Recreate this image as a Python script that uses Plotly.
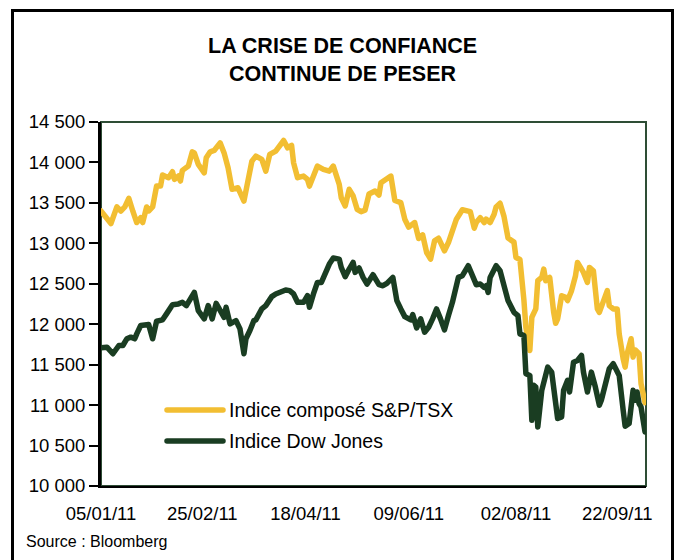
import plotly.graph_objects as go

# ---------------- data ----------------
tsx_dates = [
    "2011-01-05", "2011-01-08", "2011-01-10", "2011-01-13", "2011-01-15", "2011-01-17", "2011-01-19",
    "2011-01-21", "2011-01-23", "2011-01-25", "2011-01-26", "2011-01-28", "2011-01-29", "2011-01-31",
    "2011-02-02", "2011-02-04", "2011-02-05", "2011-02-08", "2011-02-10", "2011-02-11", "2011-02-13",
    "2011-02-14", "2011-02-15", "2011-02-18", "2011-02-20", "2011-02-21", "2011-02-23", "2011-02-26",
    "2011-02-27", "2011-03-01", "2011-03-03", "2011-03-06", "2011-03-08", "2011-03-10", "2011-03-12",
    "2011-03-15", "2011-03-18", "2011-03-20", "2011-03-22", "2011-03-24", "2011-03-27", "2011-03-29",
    "2011-03-31", "2011-04-03", "2011-04-05", "2011-04-07", "2011-04-09", "2011-04-11", "2011-04-12",
    "2011-04-14", "2011-04-17", "2011-04-19", "2011-04-20", "2011-04-23", "2011-04-24", "2011-04-27",
    "2011-04-30", "2011-05-02", "2011-05-05", "2011-05-06", "2011-05-08", "2011-05-10", "2011-05-12",
    "2011-05-14", "2011-05-16", "2011-05-18", "2011-05-20", "2011-05-23", "2011-05-25", "2011-05-26",
    "2011-05-29", "2011-05-31", "2011-06-02", "2011-06-05", "2011-06-07", "2011-06-09", "2011-06-12",
    "2011-06-14", "2011-06-16", "2011-06-18", "2011-06-20", "2011-06-22", "2011-06-24", "2011-06-26",
    "2011-06-27", "2011-06-29", "2011-07-01", "2011-07-03", "2011-07-06", "2011-07-08", "2011-07-10",
    "2011-07-12", "2011-07-13", "2011-07-15", "2011-07-17", "2011-07-18", "2011-07-20", "2011-07-22",
    "2011-07-23", "2011-07-25", "2011-07-27", "2011-07-29", "2011-08-01", "2011-08-02", "2011-08-04",
    "2011-08-06", "2011-08-07", "2011-08-09", "2011-08-10", "2011-08-12", "2011-08-13", "2011-08-15",
    "2011-08-16", "2011-08-17", "2011-08-19", "2011-08-21", "2011-08-22", "2011-08-23", "2011-08-25",
    "2011-08-27", "2011-08-28", "2011-08-30", "2011-09-01", "2011-09-02", "2011-09-05", "2011-09-07",
    "2011-09-08", "2011-09-10", "2011-09-12", "2011-09-13", "2011-09-15", "2011-09-17", "2011-09-18",
    "2011-09-20", "2011-09-22", "2011-09-23", "2011-09-25", "2011-09-26", "2011-09-27", "2011-09-29",
    "2011-09-30", "2011-10-01", "2011-10-03", "2011-10-04", "2011-10-06",
]
tsx_values = [
    13400, 13298, 13245, 13450, 13400, 13450, 13557,
    13400, 13257, 13318, 13257, 13450, 13400, 13450,
    13708, 13708, 13844, 13811, 13885, 13791, 13832,
    13770, 13902, 13955, 14131, 14118, 13975, 13872,
    14057, 14131, 14148, 14242, 14118, 13934, 13668,
    13687, 13523, 13770, 14016, 14078, 14037, 13893,
    14099, 14140, 14201, 14271, 14180, 14210, 13995,
    13811, 13832, 13791, 13708, 13872, 13955, 13914,
    13893, 13955, 13729, 13564, 13462, 13668, 13585,
    13421, 13392, 13410, 13610, 13647, 13597, 13749,
    13803, 13832, 13530, 13503, 13298, 13200, 13257,
    13060, 13105, 12887, 12805, 13031, 13064, 12948,
    12908, 13010, 13154, 13298, 13415, 13408, 13392,
    13187, 13257, 13318, 13257, 13298, 13257, 13360,
    13450, 13495, 13330, 13065, 13015, 12825, 12800,
    12300, 11963, 11676, 12086, 12189, 12538, 12579,
    12682, 12538, 12579, 12147, 12012, 12066, 12353,
    12332, 12292, 12415, 12600, 12764, 12641, 12517,
    12702, 12661, 12189, 12147, 12271, 12415, 12230,
    12189, 12189, 11881, 11573, 11470, 11635, 11820,
    11593, 11684, 11635, 11265, 11030,
]

dow_dates = [
    "2011-01-05", "2011-01-08", "2011-01-11", "2011-01-14", "2011-01-16", "2011-01-18", "2011-01-20",
    "2011-01-22", "2011-01-23", "2011-01-25", "2011-01-29", "2011-01-31", "2011-02-02", "2011-02-05",
    "2011-02-07", "2011-02-10", "2011-02-13", "2011-02-15", "2011-02-17", "2011-02-19", "2011-02-21",
    "2011-02-23", "2011-02-26", "2011-02-28", "2011-03-02", "2011-03-04", "2011-03-06", "2011-03-08",
    "2011-03-09", "2011-03-11", "2011-03-14", "2011-03-16", "2011-03-18", "2011-03-19", "2011-03-21",
    "2011-03-23", "2011-03-24", "2011-03-27", "2011-03-29", "2011-04-01", "2011-04-03", "2011-04-05",
    "2011-04-08", "2011-04-10", "2011-04-12", "2011-04-14", "2011-04-17", "2011-04-19", "2011-04-20",
    "2011-04-22", "2011-04-24", "2011-04-26", "2011-04-28", "2011-04-30", "2011-05-02", "2011-05-05",
    "2011-05-06", "2011-05-08", "2011-05-10", "2011-05-12", "2011-05-13", "2011-05-15", "2011-05-17",
    "2011-05-19", "2011-05-22", "2011-05-23", "2011-05-25", "2011-05-27", "2011-05-29", "2011-06-01",
    "2011-06-03", "2011-06-05", "2011-06-07", "2011-06-10", "2011-06-11", "2011-06-13", "2011-06-15",
    "2011-06-17", "2011-06-19", "2011-06-21", "2011-06-23", "2011-06-25", "2011-06-27", "2011-06-29",
    "2011-07-01", "2011-07-04", "2011-07-06", "2011-07-09", "2011-07-11", "2011-07-13", "2011-07-15",
    "2011-07-17", "2011-07-18", "2011-07-19", "2011-07-20", "2011-07-23", "2011-07-25", "2011-07-27",
    "2011-07-29", "2011-08-01", "2011-08-03", "2011-08-04", "2011-08-06", "2011-08-07", "2011-08-09",
    "2011-08-10", "2011-08-11", "2011-08-12", "2011-08-13", "2011-08-15", "2011-08-16", "2011-08-18",
    "2011-08-20", "2011-08-21", "2011-08-23", "2011-08-25", "2011-08-26", "2011-08-28", "2011-08-29",
    "2011-08-31", "2011-09-02", "2011-09-04", "2011-09-05", "2011-09-07", "2011-09-09", "2011-09-11",
    "2011-09-13", "2011-09-14", "2011-09-16", "2011-09-18", "2011-09-20", "2011-09-22", "2011-09-23",
    "2011-09-25", "2011-09-26", "2011-09-28", "2011-09-30", "2011-10-01", "2011-10-02", "2011-10-03",
    "2011-10-04", "2011-10-06",
]
dow_values = [
    11709, 11716, 11635, 11737, 11737, 11820, 11840,
    11820, 11881, 11984, 11996, 11820, 12037, 12054,
    12128, 12242, 12251, 12271, 12230, 12312, 12394,
    12168, 12066, 12230, 12066, 12258, 12168, 12086,
    12209, 12004, 12045, 11943, 11635, 11820, 11922,
    12045, 12054, 12189, 12230, 12341, 12374, 12394,
    12423, 12415, 12374, 12271, 12271, 12353, 12209,
    12374, 12517, 12517, 12641, 12744, 12818, 12805,
    12702, 12587, 12682, 12764, 12641, 12695, 12579,
    12497, 12612, 12579, 12489, 12476, 12505, 12579,
    12292, 12189, 12094, 12054, 12119, 11955, 12066,
    11901, 11963, 12066, 12189, 12066, 11930, 12107,
    12271, 12579, 12600, 12723, 12620, 12489, 12497,
    12455, 12476, 12394, 12579, 12723, 12661, 12497,
    12292, 12147, 12107, 11881, 11860, 11388, 11367,
    10813, 11244, 11223, 10730, 11183, 11285, 11470,
    11408, 11223, 10834, 10854, 11183, 11306, 11162,
    11531, 11552, 11614, 11408, 11162, 11408, 11223,
    10998, 11060, 11265, 11450, 11512, 11408, 11367,
    10936, 10739, 10772, 11183, 11060, 11162, 11019,
    10977, 10669,
]

series_names = ["Indice composé S&P/TSX", "Indice Dow Jones"]
x_tick_dates = ["2011-01-05", "2011-02-25", "2011-04-18", "2011-06-09", "2011-08-02", "2011-09-22"]
x_tick_labels = ["05/01/11", "25/02/11", "18/04/11", "09/06/11", "02/08/11", "22/09/11"]
y_tick_values = [10000, 10500, 11000, 11500, 12000, 12500, 13000, 13500, 14000, 14500]
y_tick_labels = ["10 000", "10 500", "11 000", "11 500", "12 000", "12 500", "13 000", "13 500", "14 000", "14 500"]

title_text = "<b>LA CRISE DE CONFIANCE<br>CONTINUE DE PESER</b>"
source_text = "Source : Bloomberg"

# ---------------- style ----------------
YELLOW = "#F2BE32"
GREEN = "#1A3D22"
FONT = "Arial, 'Liberation Sans', sans-serif"

W, H = 674, 560
L, R, T, B = 101, 28, 122, 74
pw, ph = W - L - R, H - T - B


def px_x(p):
    return (p - L) / pw


def px_y(p):
    return (H - B - p) / ph


fig = go.Figure()
fig.add_trace(go.Scatter(x=tsx_dates, y=tsx_values, mode="lines", name=series_names[0],
                         line=dict(color=YELLOW, width=5.5), showlegend=False))
fig.add_trace(go.Scatter(x=dow_dates, y=dow_values, mode="lines", name=series_names[1],
                         line=dict(color=GREEN, width=5.5), showlegend=False))

shapes = [
    # plot frame (top/right dark green)
    dict(type="rect", xref="paper", yref="paper", x0=0, x1=1, y0=0, y1=1,
         line=dict(color="#2E4D35", width=2), layer="below"),
    # outer border
    dict(type="rect", xref="paper", yref="paper", x0=px_x(12.5), x1=px_x(672.5),
         y0=px_y(575), y1=px_y(10.5), line=dict(color="black", width=3), layer="below"),
    # legend samples
    dict(type="line", xref="paper", yref="paper", x0=px_x(167), x1=px_x(223),
         y0=px_y(410), y1=px_y(410), line=dict(color=YELLOW, width=5.5)),
    dict(type="line", xref="paper", yref="paper", x0=px_x(167), x1=px_x(223),
         y0=px_y(441), y1=px_y(441), line=dict(color=GREEN, width=5.5)),
]

annotations = [
    dict(text=title_text, xref="paper", yref="paper", x=px_x(342), y=px_y(60),
         xanchor="center", yanchor="middle", showarrow=False,
         font=dict(family=FONT, size=21.5, color="black")),
    dict(text=series_names[0], xref="paper", yref="paper", x=px_x(227), y=px_y(410),
         xanchor="left", yanchor="middle", showarrow=False,
         font=dict(family=FONT, size=19.5, color="black")),
    dict(text=series_names[1], xref="paper", yref="paper", x=px_x(227), y=px_y(441),
         xanchor="left", yanchor="middle", showarrow=False,
         font=dict(family=FONT, size=19.5, color="black")),
    dict(text=source_text, xref="paper", yref="paper", x=px_x(24), y=px_y(541),
         xanchor="left", yanchor="middle", showarrow=False,
         font=dict(family=FONT, size=16, color="black")),
]

fig.update_layout(
    width=W, height=H,
    margin=dict(l=L, r=R, t=T, b=B, pad=0),
    paper_bgcolor="white", plot_bgcolor="white",
    font=dict(family=FONT, color="black"),
    shapes=shapes, annotations=annotations,
    showlegend=False,
)
fig.update_xaxes(
    type="date", range=["2011-01-05", "2011-10-06 12:00"],
    tickvals=x_tick_dates, ticktext=x_tick_labels,
    tickfont=dict(size=18.5), ticks="outside", ticklen=10, tickcolor="rgba(0,0,0,0)",
    showline=True, linecolor="black", linewidth=2, showgrid=False, zeroline=False,
)
fig.update_yaxes(
    range=[10000, 14500], tickvals=y_tick_values, ticktext=y_tick_labels,
    tickfont=dict(size=18.5), ticks="outside", ticklen=9, tickwidth=2, tickcolor="black",
    showline=True, linecolor="black", linewidth=3, showgrid=False, zeroline=False,
)

post = (
    "document.body.style.margin='0';"
    "document.querySelectorAll('.scatterlayer path.js-line').forEach(function(p){"
    "p.style.strokeLinejoin='round';p.style.strokeLinecap='round';});"
    "document.querySelectorAll('.shapelayer path').forEach(function(p){p.style.strokeLinecap='round';});"
)
fig.write_html("out.html", config={"displayModeBar": False}, post_script=post)
